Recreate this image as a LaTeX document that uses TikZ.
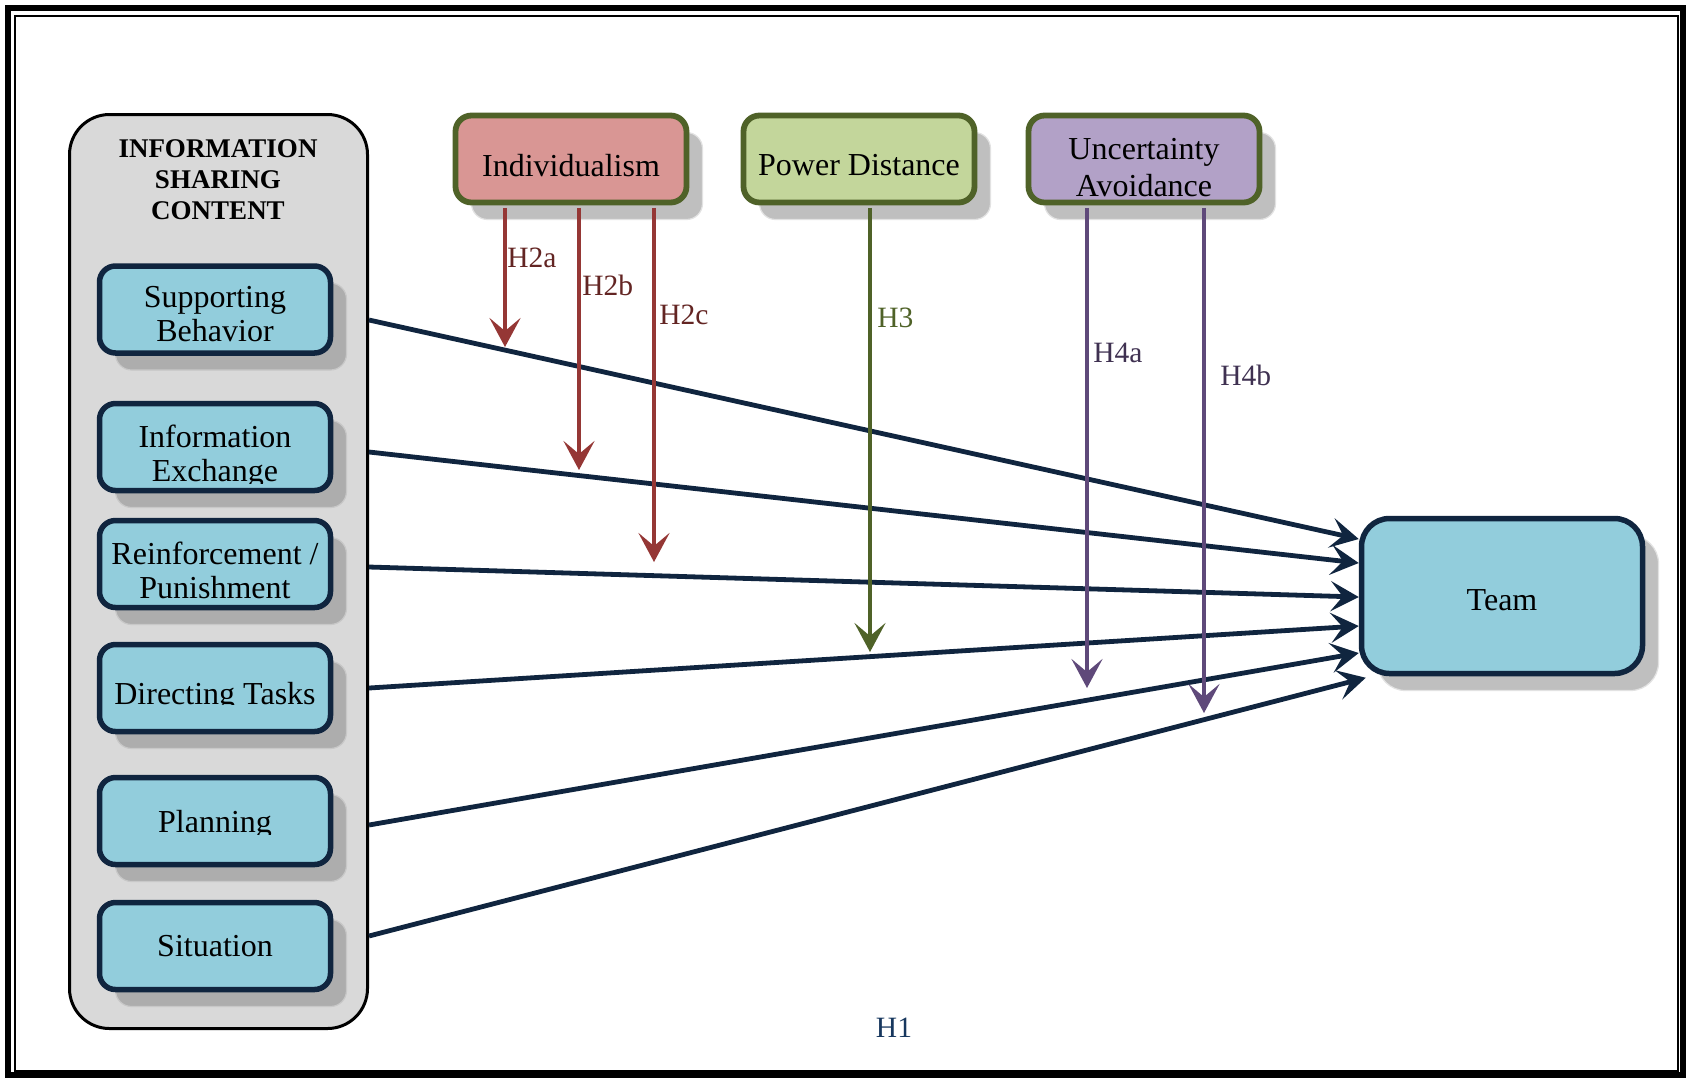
\documentclass[tikz,border=0pt]{standalone}
\usepackage{fontspec}
\setmainfont{Liberation Serif}
\usetikzlibrary{arrows.meta,shadows,calc}
\definecolor{navy}{HTML}{10253F}
\definecolor{lblue}{HTML}{92CDDC}
\definecolor{contgray}{HTML}{D9D9D9}
\definecolor{shA}{HTML}{ADADAD}
\definecolor{shAl}{HTML}{C8C8C8}
\definecolor{shB}{HTML}{BFBFBF}
\definecolor{shBl}{HTML}{E2E2E2}
\definecolor{olive}{HTML}{4F6228}
\definecolor{pinkf}{HTML}{D99694}
\definecolor{greenf}{HTML}{C3D69B}
\definecolor{purplef}{HTML}{B2A1C7}
\definecolor{redarr}{HTML}{953735}
\definecolor{redlab}{HTML}{632523}
\definecolor{purarr}{HTML}{5F497A}
\definecolor{purlab}{HTML}{3F3151}
\definecolor{hone}{HTML}{17375E}
\tikzset{
  boxtext/.style={font=\fontsize{16pt}{17pt}\selectfont, align=center, inner sep=0pt},
  modtext/.style={font=\fontsize{16pt}{18.5pt}\selectfont, align=center, inner sep=0pt},
  subbox/.style={draw=navy, line width=2.75pt, fill=lblue, rounded corners=8pt,
    minimum width=115.5pt, minimum height=43.5pt, inner sep=0pt,
    drop shadow={shadow xshift=8pt, shadow yshift=-8.5pt, fill=shA, draw=shAl, line width=0.6pt, opacity=1}},
  modbox/.style={draw=olive, line width=2.9pt, rounded corners=8pt,
    minimum width=115.5pt, minimum height=43.5pt, inner sep=0pt,
    drop shadow={shadow xshift=8pt, shadow yshift=-8.5pt, fill=shB, draw=shBl, line width=0.6pt, opacity=1}},
  teambox/.style={draw=navy, line width=2.75pt, fill=lblue, rounded corners=14pt,
    minimum width=140.5pt, minimum height=77.5pt, inner sep=0pt,
    drop shadow={shadow xshift=8pt, shadow yshift=-8.5pt, fill=shB, draw=shBl, line width=0.6pt, opacity=1}},
  mainarrow/.style={draw=navy, line width=2.4pt, -{Stealth[length=14pt,width=15pt,inset=6pt]}},
  modarrow/.style={line width=2.4pt, -{Stealth[length=14.5pt,width=15.5pt,inset=6.5pt]}},
  hlabel/.style={font=\fontsize{14.75pt}{16pt}\selectfont, inner sep=0pt, anchor=west},
}
\begin{document}
\begin{tikzpicture}[x=0.5pt,y=-0.5pt]
\useasboundingbox (0,0) rectangle (1686,1078);
\fill[white] (0,0) rectangle (1686,1078);
% frame
\draw[line width=3pt] (8,7.5) rectangle (1683,1075);
\draw[line width=1pt] (15,15.5) rectangle (1678,1070.5);
% container
\node[draw=black, line width=1.5pt, fill=contgray, rounded corners=20pt,
  minimum width=149pt, minimum height=457pt, inner sep=0pt] (cont) at (218.5,571.5) {};
\node[font=\bfseries\fontsize{13.5pt}{15.5pt}\selectfont, align=center, inner sep=0pt] (title) at (218,180) {INFORMATION\\SHARING\\CONTENT};
% sub boxes
\node[subbox] (sb) at (215,309.5) {};
\node[subbox] (ie) at (215,447) {};
\node[subbox] (rp) at (215,564) {};
\node[subbox] (dt) at (215,688) {};
\node[subbox] (pl) at (215,821) {};
\node[subbox] (si) at (215,946) {};
\node[boxtext] (sbt) at ($(sb)+(0,5)$) {Supporting\\Behavior};
\begin{scope}
  \clip (0,0) rectangle (1686,483);
  \node[boxtext] (iet) at ($(ie)+(0,10)$) {Information\\Exchange};
\end{scope}
\begin{scope}
  \clip (0,0) rectangle (1686,601);
  \node[boxtext] (rpt) at ($(rp)+(0,6)$) {Reinforcement /\\Punishment};
\end{scope}
\begin{scope}
  \clip (0,0) rectangle (1686,704);
  \node[boxtext] (dtt) at ($(dt)+(0,8.5)$) {Directing Tasks};
\end{scope}
\begin{scope}
  \clip (0,0) rectangle (1686,834);
  \node[boxtext] (plt) at ($(pl)+(0,4)$) {Planning};
\end{scope}
\node[boxtext] (sit) at ($(si)+(0,0)$) {Situation};
% moderators
\node[modbox, fill=pinkf] (ind) at (571,159) {};
\node[modbox, fill=greenf] (pd) at (859,159) {};
\node[modbox, fill=purplef] (ua) at (1144,159) {};
\node[modtext] (indt) at ($(ind)+(0,6.5)$) {Individualism};
\node[modtext] (pdt) at ($(pd)+(0,6.5)$) {Power Distance};
\node[modtext] (uat) at ($(ua)+(0,8.5)$) {Uncertainty\\Avoidance};
% team
\node[teambox] (team) at (1502,596) {};
\node[boxtext] (teamt) at ($(team)+(0,4)$) {Team};
% main arrows
\draw[mainarrow] ($(sb.center -| cont.east)+(0,10.5)$) -- ($(team.west)+(0,-57)$);
\draw[mainarrow] ($(ie.center -| cont.east)+(0,5)$) -- ($(team.west)+(0,-33)$);
\draw[mainarrow] ($(rp.center -| cont.east)+(0,3)$) -- ($(team.west)+(0,1)$);
\draw[mainarrow] (dt.center -| cont.east) -- ($(team.west)+(0,30)$);
\draw[mainarrow] ($(pl.center -| cont.east)+(0,4)$) -- ($(team.west)+(0,57)$);
\draw[mainarrow] ($(si.center -| cont.east)+(0,-10)$) -- ($(team.south west)+(7,1.5)$);
% moderator arrows
\coordinate (t2a) at (505,347);
\coordinate (t2b) at (579,470);
\coordinate (t2c) at (654,562);
\coordinate (t3) at (870,652);
\coordinate (t4a) at (1087,688);
\coordinate (t4b) at (1204,713);
\draw[modarrow, redarr] ($(ind.south -| t2a)+(0,2.5)$) -- (t2a);
\draw[modarrow, redarr] ($(ind.south -| t2b)+(0,2.5)$) -- (t2b);
\draw[modarrow, redarr] ($(ind.south -| t2c)+(0,2.5)$) -- (t2c);
\draw[modarrow, olive] ($(pd.south -| t3)+(0,2.5)$) -- (t3);
\draw[modarrow, purarr] ($(ua.south -| t4a)+(0,2.5)$) -- (t4a);
\draw[modarrow, purarr] ($(ua.south -| t4b)+(0,2.5)$) -- (t4b);
% labels
\node[hlabel, text=redlab] (l2a) at (507,258) {H2a};
\node[hlabel, text=redlab] (l2b) at (582,285) {H2b};
\node[hlabel, text=redlab] (l2c) at (659,315) {H2c};
\node[hlabel, text=olive] (l3) at (877,318) {H3};
\node[hlabel, text=purlab] (l4a) at (1093,353) {H4a};
\node[hlabel, text=purlab] (l4b) at (1220,375) {H4b};
\node[hlabel, anchor=center, text=hone] (l1) at (894,1028) {H1};
\end{tikzpicture}
\end{document}
